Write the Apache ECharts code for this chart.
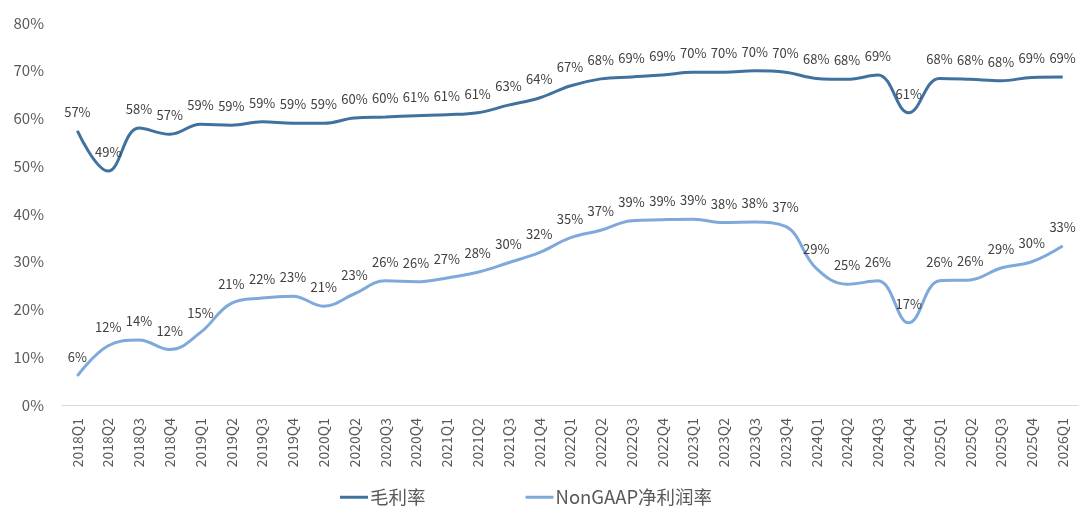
<!DOCTYPE html>
<html>
<head>
<meta charset="utf-8">
<script src="https://cdn.jsdelivr.net/npm/echarts@6/dist/echarts.min.js"></script>
<style>
  html, body { margin: 0; padding: 0; background: #fff; }
  #chart { width: 1080px; height: 532px; }
</style>
</head>
<body>
<div id="chart"></div>
<script>
const quarters = ['2018Q1', '2018Q2', '2018Q3', '2018Q4', '2019Q1', '2019Q2', '2019Q3', '2019Q4',
    '2020Q1', '2020Q2', '2020Q3', '2020Q4', '2021Q1', '2021Q2', '2021Q3', '2021Q4',
    '2022Q1', '2022Q2', '2022Q3', '2022Q4', '2023Q1', '2023Q2', '2023Q3', '2023Q4',
    '2024Q1', '2024Q2', '2024Q3', '2024Q4', '2025Q1', '2025Q2', '2025Q3', '2025Q4', '2026Q1']
const grossMargin = [57.4, 49.0, 58.0, 56.7, 58.8, 58.6, 59.3, 59.0,
    59.0, 60.1, 60.3, 60.6, 60.8, 61.2, 62.8, 64.3,
    66.8, 68.3, 68.7, 69.1, 69.7, 69.7, 70.0, 69.7,
    68.4, 68.2, 69.1, 61.2, 68.4, 68.2, 67.9, 68.6, 68.7]
const netMargin = [6.1, 12.4, 13.6, 11.6, 15.2, 21.3, 22.4, 22.8,
    20.7, 23.3, 26.0, 25.8, 26.6, 27.8, 29.8, 31.9,
    35.0, 36.6, 38.6, 38.8, 38.9, 38.2, 38.3, 37.4,
    28.6, 25.3, 26.0, 17.2, 26.0, 26.2, 28.7, 30.0, 33.3]
const seriesNames = ['毛利率', 'NonGAAP净利润率']

const font = '"Noto Sans CJK SC", "Noto Sans", sans-serif'
const lineIcon = 'path://M0,0 L28,0 L28,3 L0,3 Z'

let chart = echarts.init(document.getElementById('chart'))

function lineSeries(name, data, color) {
    return {
        name: name,
        type: 'line',
        data: data,
        smooth: 0.4,
        symbol: 'circle',
        symbolSize: 1,
        showSymbol: true,
        lineStyle: { width: 3, color: color },
        itemStyle: { color: color },
        label: {
            show: true,
            position: 'top',
            distance: 12,
            color: '#404040',
            fontSize: 13,
            fontFamily: font,
            formatter: p => Math.round(p.value) + '%'
        },
        labelLayout: { hideOverlap: false }
    }
}

chart.setOption({
    animation: false,
    grid: { left: 62, right: 2, top: 23, bottom: 127 },
    legend: {
        data: [
            { name: seriesNames[0], icon: lineIcon },
            { name: seriesNames[1], icon: lineIcon }
        ],
        top: 483,
        left: 335,
        itemWidth: 28,
        itemHeight: 3,
        itemGap: 100,
        textStyle: { color: '#595959', fontSize: 18.5, fontFamily: font, padding: [0, 0, 0, -3] }
    },
    xAxis: {
        type: 'category',
        data: quarters,
        boundaryGap: true,
        axisLine: { show: true, lineStyle: { color: '#d9d9d9', width: 1 } },
        axisTick: { show: false },
        axisLabel: {
            rotate: 90,
            interval: 0,
            color: '#595959',
            fontSize: 14,
            fontFamily: font,
            margin: 13
        }
    },
    yAxis: {
        type: 'value',
        min: 0,
        max: 80,
        interval: 10,
        axisLine: { show: false },
        axisTick: { show: false },
        splitLine: { show: false },
        axisLabel: {
            formatter: '{value}%',
            color: '#595959',
            fontSize: 15,
            fontFamily: font,
            margin: 18
        }
    },
    series: [
        lineSeries(seriesNames[0], grossMargin, '#41719F'),
        lineSeries(seriesNames[1], netMargin, '#7EA9DA')
    ]
})
</script>
</body>
</html>
